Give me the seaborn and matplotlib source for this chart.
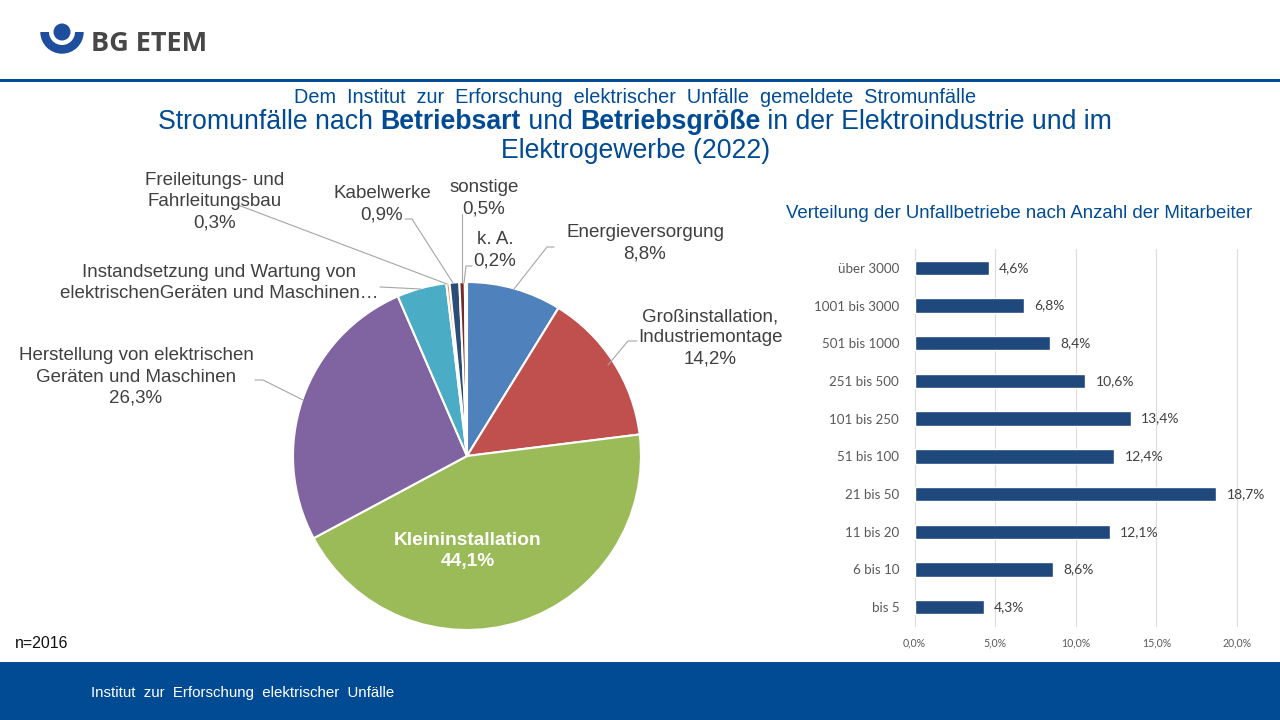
import matplotlib
matplotlib.use("Agg")
import matplotlib.pyplot as plt
from matplotlib.patches import Circle, Rectangle, Wedge
import pandas as pd
import seaborn as sns

# Tortendiagramm: Betriebsart
pie_names = ["Energieversorgung", "Großinstallation", "Kleininstallation", "Herstellung",
             "Instandsetzung", "Freileitungsbau", "Kabelwerke", "sonstige", "k. A."]
pie_values = [8.8, 14.2, 44.1, 26.3, 4.6, 0.3, 0.9, 0.5, 0.2]
pie_colors = ["#4F81BD", "#C0504D", "#9BBB59", "#8064A2", "#4BACC6",
              "#F79646", "#2C4D75", "#772C2A", "#5F7530"]

# Balkendiagramm: Betriebsgröße
size_labels = ["über 3000", "1001 bis 3000", "501 bis 1000", "251 bis 500", "101 bis 250",
               "51 bis 100", "21 bis 50", "11 bis 20", "6 bis 10", "bis 5"]
size_values = [4.6, 6.8, 8.4, 10.6, 13.4, 12.4, 18.7, 12.1, 8.6, 4.3]
x_ticks = [0, 5, 10, 15, 20]

BLUE = "#004B93"
W, H = 1280, 720


def de(v):
    return f"{v:.1f}".replace(".", ",") + "%"


def px_axes(left, top, width, height):
    return fig.add_axes([left / W, 1 - (top + height) / H, width / W, height / H])


sns.set_theme(style="white")
plt.rcParams["font.family"] = ["Liberation Sans", "DejaVu Sans"]

fig = plt.figure(figsize=(12.8, 7.2), dpi=100, facecolor="white")

# Hintergrund in Pixelkoordinaten
bg = px_axes(0, 0, W, H)
bg.set_xlim(0, W)
bg.set_ylim(H, 0)
bg.axis("off")
bg.add_patch(Rectangle((0, 79), W, 3, color=BLUE, lw=0))
bg.add_patch(Rectangle((0, 662), W, 58, color=BLUE, lw=0))
bg.text(91, 693, "Institut  zur  Erforschung  elektrischer  Unfälle", color="white",
        fontsize=10.8, va="center")

# Logo
bg.add_patch(Wedge((62, 32), 21.7, 0, 180, color="#1F4E9E", lw=0))
bg.add_patch(Circle((62, 32), 13, color="white", lw=0))
bg.add_patch(Circle((62, 32), 8.5, color="#1F4E9E", lw=0))
bg.text(91, 44, "BG ETEM", family="Open Sans", fontweight="bold", fontsize=19.5,
        color="#474747", va="center")

# Titel
bg.text(635, 97.5, "Dem  Institut  zur  Erforschung  elektrischer  Unfälle  gemeldete  Stromunfälle",
        color=BLUE, fontsize=14.3, ha="center", va="center")
title_parts = [("Stromunfälle nach ", "normal"), ("Betriebsart", "bold"), (" und ", "normal"),
               ("Betriebsgröße", "bold"), (" in der Elektroindustrie und im", "normal")]
x = 158
renderer = fig.canvas.get_renderer()
for part, weight in title_parts:
    t = bg.text(x, 122, part.replace(" ", "\u00a0"), color=BLUE, fontsize=19.2, fontweight=weight, va="center")
    x = t.get_window_extent(renderer).x1
bg.text(636, 151, "Elektrogewerbe (2022)", color=BLUE, fontsize=19.2, ha="center", va="center")
bg.text(15, 643, "n=2016", color="#111111", fontsize=11.5, va="center")
bg.text(1019.5, 213, "Verteilung der Unfallbetriebe nach Anzahl der Mitarbeiter", color=BLUE,
        fontsize=13.4, ha="center", va="center")

# Torte
pie_ax = px_axes(467 - 176, 456 - 176, 352, 352)
pie_ax.pie(pie_values, colors=pie_colors, startangle=90, counterclock=False, radius=174 / 176,
           wedgeprops={"edgecolor": "white", "linewidth": 1.5})
pie_ax.set_xlim(-1, 1)
pie_ax.set_ylim(-1, 1)

# Beschriftungen der Torte
pie_labels = [
    ("Energieversorgung\n" + de(pie_values[0]), 645, 243),
    ("Großinstallation,\nIndustriemontage\n" + de(pie_values[1]), 710, 338),
    ("Herstellung von elektrischen\nGeräten und Maschinen\n" + de(pie_values[3]), 136, 377),
    ("Instandsetzung und Wartung von\nelektrischenGeräten und Maschinen…", 219, 283),
    ("Freileitungs- und\nFahrleitungsbau\n" + de(pie_values[5]), 215, 202),
    ("Kabelwerke\n" + de(pie_values[6]), 382, 204),
    ("sonstige\n" + de(pie_values[7]), 484, 198.5),
    ("k. A.\n" + de(pie_values[8]), 495, 250),
]
for text, lx, ly in pie_labels:
    bg.text(lx, ly, text, color="#404040", fontsize=13.5, ha="center", va="center", linespacing=1.32)
bg.text(468, 551, "Kleininstallation\n" + de(pie_values[2]), color="white", fontsize=13.8,
        fontweight="bold", ha="center", va="center", linespacing=1.32, zorder=5)
bg.set_zorder(3)
bg.patch.set_alpha(0)

# Führungslinien
leaders = [
    ([554, 547, 514], [247, 247, 289]),
    ([637, 628, 608], [341, 341, 365]),
    ([255, 263, 303], [380, 380, 400]),
    ([380, 421], [287, 289]),
    ([238, 447], [205, 284]),
    ([405, 412, 453], [219, 219, 283]),
    ([462, 462], [214, 283]),
    ([472, 466, 464], [266, 266, 283]),
]
for xs, ys in leaders:
    bg.plot(xs, ys, color="#A6A6A6", lw=0.8)

# Balken
df = pd.DataFrame({"groesse": size_labels, "anteil": size_values})
bar_ax = px_axes(914.5, 249, 322.5, 377)
sns.barplot(data=df, y="groesse", x="anteil", color="#1F497D", saturation=1, width=0.38, ax=bar_ax, zorder=3)
bar_ax.set_xlim(0, 20)
bar_ax.set_xticks(x_ticks)
bar_ax.set_xticklabels([de(v) for v in x_ticks], fontsize=7.6, color="#595959",
                       family=["Lato", "DejaVu Sans"])
bar_ax.set_xlabel("")
bar_ax.set_ylabel("")
bar_ax.tick_params(axis="y", length=0, pad=11, labelsize=9.6, labelcolor="#595959")
bar_ax.tick_params(axis="x", length=0, pad=8.5)
for lab in bar_ax.get_yticklabels():
    lab.set_family(["Lato", "DejaVu Sans"])
bar_ax.grid(axis="x", color="#DCDCDC", lw=0.8)
for line in bar_ax.get_xgridlines():
    line.set_clip_on(False)
bar_ax.set_axisbelow(True)
sns.despine(ax=bar_ax, left=True, bottom=True)
bar_ax.patch.set_alpha(0)
for lab in bar_ax.bar_label(bar_ax.containers[0], labels=[de(v) for v in size_values], padding=7.5,
                            fontsize=10, color="#404040"):
    lab.set_family(["Lato", "DejaVu Sans"])

fig.savefig("out.png", dpi=100)
